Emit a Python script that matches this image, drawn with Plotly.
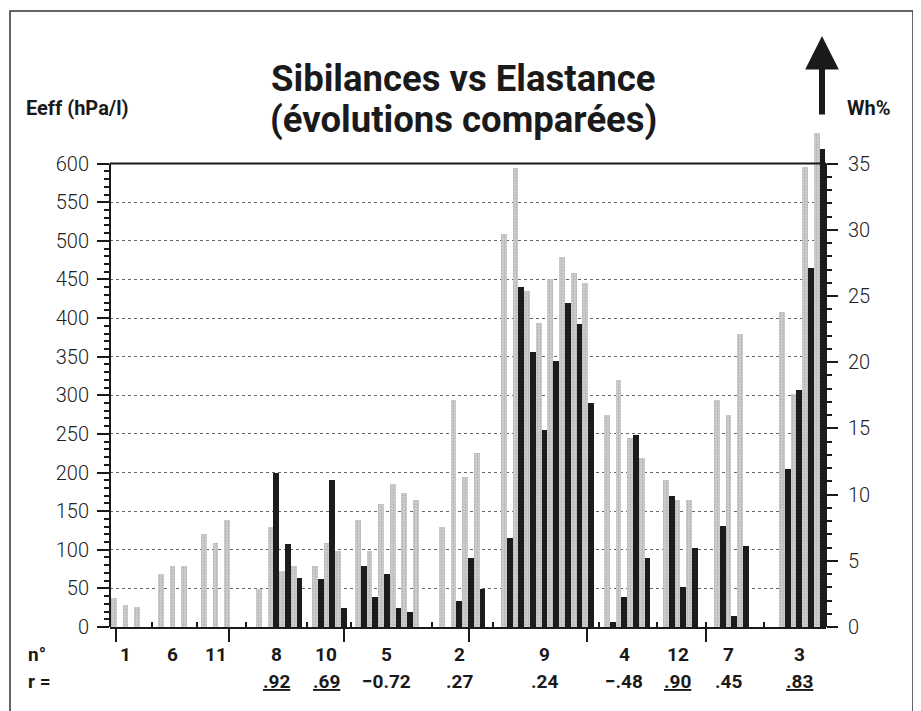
import plotly.graph_objects as go

# ---------------- data ----------------
patients = ["1", "6", "11", "8", "10", "5", "2", "9", "4", "12", "7", "3"]
r_values = ["", "", "", ".92", ".69", "\u22120.72", ".27", ".24", "\u2212.48", ".90", ".45", ".83"]
r_underlined = [False, False, False, True, True, False, False, False, False, True, False, True]

eeff = [  # Eeff (hPa/l), grey bars, left axis
    [38, 29, 26],
    [69, 79, 79],
    [120, 109, 139],
    [49, 129, 73, 79],
    [79, 109, 99],
    [139, 99, 159, 185, 174, 165],
    [130, 294, 194, 225],
    [509, 594, 435, 393, 451, 479, 459, 445],
    [275, 320, 245, 219],
    [190, 164, 164],
    [294, 275, 380],
    [408, 302, 595, 640],
]
wh = [  # Wh% (sibilances), black bars, right axis
    [0, 0, 0],
    [0, 0, 0],
    [0, 0, 0],
    [0, 11.6, 6.3, 3.7],
    [3.6, 11.1, 1.4],
    [4.6, 2.3, 4.0, 1.4, 1.1, 0],
    [0, 2.0, 5.2, 2.9],
    [6.7, 25.7, 20.8, 14.9, 20.1, 24.5, 22.9, 16.9],
    [0.4, 2.3, 14.5, 5.2],
    [9.9, 3.0, 6.0],
    [7.6, 0.8, 6.1],
    [11.9, 17.9, 27.1, 36.1],
]
left_ticks = list(range(0, 601, 50))
right_ticks = list(range(0, 36, 5))

# ---------------- layout helpers ----------------
GAPS = [0.09, 1.04, 0.70, 1.73, 0.82, 0.70, 1.23, 1.34, 0.86, 1.08, 1.39, 2.59]
X_MAX = 61.62
MAJOR_X = [0.52, 10.27, 20.18, 30.87, 41.05, 51.29]
Y_TOP = 650
Y2_TOP = Y_TOP * 35 / 600

OFF = 8  # page body margin offset
W, H = 921, 711
ML, MR, MT, MB = 102, 103, 117, 92
PW, PH = W - ML - MR, H - MT - MB


def pxx(px):
    return (px - OFF - ML) / PW


def pxy(py):
    return (H - MB - (py - OFF)) / PH


FONT = "Roboto, Liberation Sans, Arial, sans-serif"
INK = "#1a1a1a"

xg, xb, yg, yb, starts, ends = [], [], [], [], [], []
pos = 0.0
for gap, e, w in zip(GAPS, eeff, wh):
    pos += gap
    starts.append(pos)
    for i, (ev, wv) in enumerate(zip(e, w)):
        xg.append(pos + i + 0.25)
        yg.append(ev)
        xb.append(pos + i + 0.75)
        yb.append(wv)
    pos += len(e)
    ends.append(pos)
minor_x = [(ends[k] + starts[k + 1]) / 2 for k in range(len(starts) - 1)]

fig = go.Figure()
fig.add_trace(go.Bar(
    x=xg, y=yg, width=0.5, yaxis="y",
    marker=dict(color="#c8c8c8", line=dict(width=0),
                pattern=dict(shape=".", fgcolor="#9a9a9a", bgcolor="#cdcdcd", size=3, solidity=0.3)),
    showlegend=False, hoverinfo="skip"))
fig.add_trace(go.Bar(
    x=xb, y=yb, width=0.5, yaxis="y2",
    marker=dict(color="#1c1c1c", line=dict(width=0)),
    showlegend=False, hoverinfo="skip"))

lab_font = dict(family=FONT, size=19, color=INK)
annotations = []
for k, (p, r, u) in enumerate(zip(patients, r_values, r_underlined)):
    xc = starts[k] + (len(eeff[k]) - 0.5) / 2
    annotations.append(dict(x=xc, xref="x", y=pxy(654), yref="paper", text="<b>%s</b>" % p,
                            showarrow=False, xanchor="center", yanchor="middle", font=lab_font))
    if r:
        t = "<b>%s</b>" % r
        if u:
            t = "<u>%s</u>" % t
        annotations.append(dict(x=xc, xref="x", y=pxy(681), yref="paper", text=t,
                                showarrow=False, xanchor="center", yanchor="middle", font=lab_font))
annotations += [
    dict(x=pxx(26), xref="paper", y=pxy(654), yref="paper", text="<b>n\u00b0</b>", showarrow=False,
         xanchor="left", yanchor="middle", font=lab_font),
    dict(x=pxx(26), xref="paper", y=pxy(681), yref="paper", text="<b>r =</b>", showarrow=False,
         xanchor="left", yanchor="middle", font=lab_font),
    dict(x=pxx(24), xref="paper", y=pxy(108), yref="paper", text="<b>Eeff (hPa/l)</b>", showarrow=False,
         xanchor="left", yanchor="middle", font=dict(family=FONT, size=20, color=INK)),
    dict(x=pxx(845), xref="paper", y=pxy(108), yref="paper", text="<b>Wh%</b>", showarrow=False,
         xanchor="left", yanchor="middle", font=dict(family=FONT, size=20, color=INK)),
    dict(x=pxx(463), xref="paper", y=pxy(78), yref="paper", text="<b>Sibilances vs Elastance</b>",
         showarrow=False, xanchor="center", yanchor="middle",
         font=dict(family=FONT, size=36.5, color=INK)),
    dict(x=pxx(463), xref="paper", y=pxy(119), yref="paper", text="<b>(\u00e9volutions compar\u00e9es)</b>",
         showarrow=False, xanchor="center", yanchor="middle",
         font=dict(family=FONT, size=36.5, color=INK)),
    dict(x=pxx(822), xref="paper", y=pxy(36), yref="paper", text="", showarrow=True,
         ax=0, ay=80, arrowhead=2, arrowsize=1.12, arrowwidth=6, arrowcolor=INK),
]

shapes = [
    dict(type="line", xref="paper", yref="y", x0=0, x1=0, y0=0, y1=600, line=dict(color=INK, width=2)),
    dict(type="line", xref="paper", yref="y", x0=1, x1=1, y0=0, y1=600, line=dict(color=INK, width=2)),
    dict(type="line", xref="paper", yref="y", x0=0, x1=1, y0=600, y1=600, line=dict(color=INK, width=2)),
    dict(type="rect", xref="paper", yref="paper", x0=pxx(10), x1=pxx(913), y0=pxy(725), y1=pxy(11),
         line=dict(color="#333333", width=1.5), layer="above"),
]

tickfont = dict(family=FONT, size=20, color="#222222", weight=300)
fig.update_layout(
    width=W, height=H, margin=dict(l=ML, r=MR, t=MT, b=MB),
    paper_bgcolor="white", plot_bgcolor="white",
    barmode="overlay", bargap=0,
    xaxis=dict(range=[0, X_MAX], showgrid=False, zeroline=False, showline=True,
               linecolor=INK, linewidth=2, showticklabels=False,
               tickmode="array", tickvals=MAJOR_X, ticks="outside", ticklen=13, tickwidth=2,
               tickcolor=INK,
               minor=dict(tickmode="array", tickvals=minor_x, ticks="inside", ticklen=5,
                          tickwidth=1.5, tickcolor=INK, showgrid=False)),
    yaxis=dict(range=[0, Y_TOP], tickmode="array", tickvals=left_ticks, ticks="outside", ticklen=12,
               tickwidth=2, tickcolor=INK, showline=False, zeroline=False,
               showgrid=True, gridcolor="#666666", gridwidth=1, griddash="dot",
               tickfont=tickfont, ticklabelstandoff=4,
               minor=dict(tickmode="array", tickvals=list(range(0, 601, 10)), ticks="outside",
                          ticklen=5, tickwidth=1.5, tickcolor=INK, showgrid=False)),
    yaxis2=dict(range=[0, Y2_TOP], overlaying="y", side="right", tickmode="array",
                tickvals=right_ticks, ticks="outside", ticklen=11, tickwidth=2, tickcolor=INK,
                showline=False, zeroline=False, showgrid=False, tickfont=tickfont,
                ticklabelstandoff=6,
                minor=dict(tickmode="array", tickvals=list(range(0, 36, 1)), ticks="outside",
                           ticklen=5, tickwidth=1.5, tickcolor=INK, showgrid=False)),
    annotations=annotations,
    shapes=shapes,
)

fig.write_html("out.html")
